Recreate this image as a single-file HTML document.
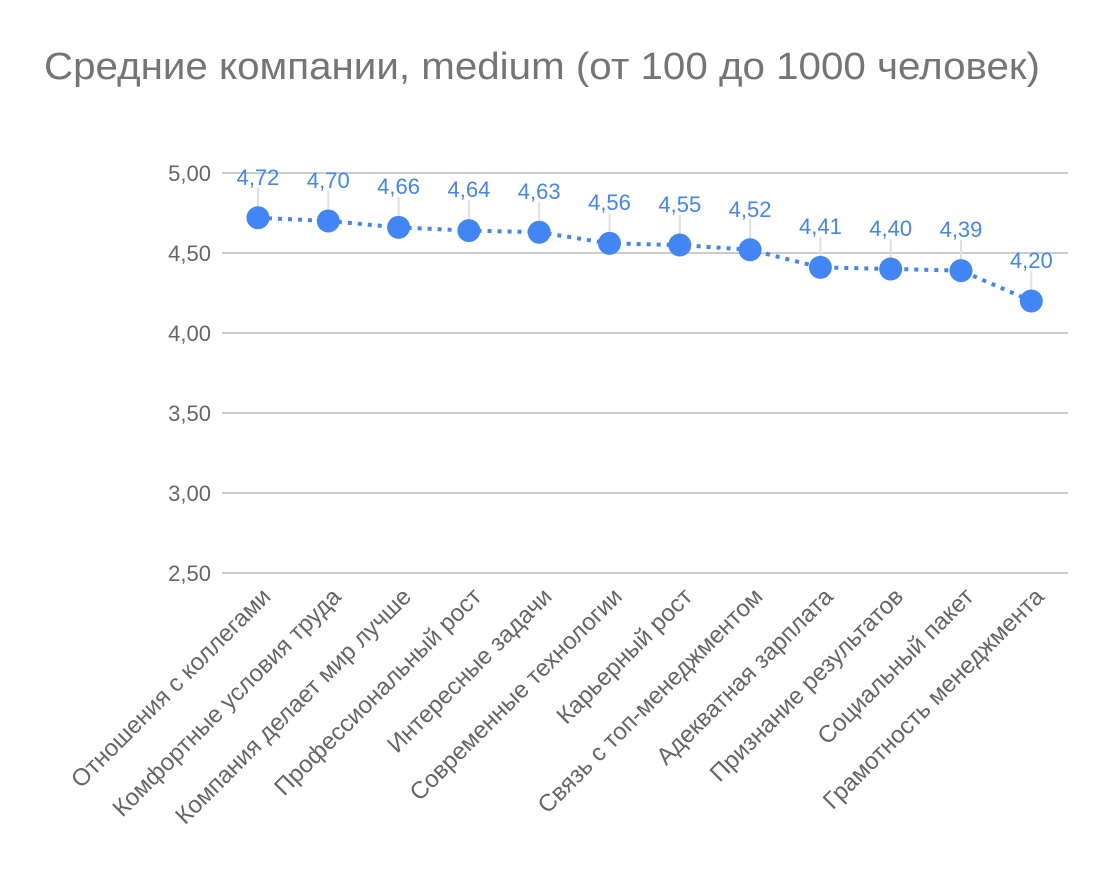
<!DOCTYPE html>
<html><head><meta charset="utf-8"><style>body{margin:0;background:#fff}</style></head><body>
<svg width="1104" height="876" xmlns="http://www.w3.org/2000/svg" font-family="'Liberation Sans','Noto Sans CJK SC',sans-serif">
<rect width="1104" height="876" fill="#fff"/>
<text x="44" y="79" font-size="38" fill="#757575" textLength="996" lengthAdjust="spacingAndGlyphs">Средние компании, medium (от 100 до 1000 человек)</text>
<g stroke="#cccccc" stroke-width="2">
<line x1="222" y1="173" x2="1068" y2="173"/><line x1="222" y1="253" x2="1068" y2="253"/>
<line x1="222" y1="333" x2="1068" y2="333"/><line x1="222" y1="413" x2="1068" y2="413"/>
<line x1="222" y1="493" x2="1068" y2="493"/><line x1="222" y1="573" x2="1068" y2="573"/>
</g>
<g font-size="22" fill="#666" text-anchor="end">
<text x="211" y="181">5,00</text><text x="211" y="261">4,50</text><text x="211" y="341">4,00</text>
<text x="211" y="421">3,50</text><text x="211" y="501">3,00</text><text x="211" y="581">2,50</text>
</g>
<g stroke="#e0e0e0" stroke-width="2">
<line x1="258" y1="188" x2="258" y2="208"/><line x1="328.3" y1="191" x2="328.3" y2="211"/>
<line x1="398.6" y1="197" x2="398.6" y2="217"/><line x1="468.9" y1="200" x2="468.9" y2="220"/>
<line x1="539.2" y1="202" x2="539.2" y2="222"/><line x1="609.5" y1="213" x2="609.5" y2="233"/>
<line x1="679.8" y1="215" x2="679.8" y2="235"/><line x1="750.1" y1="220" x2="750.1" y2="240"/>
<line x1="820.4" y1="237" x2="820.4" y2="257"/><line x1="890.7" y1="239" x2="890.7" y2="259"/>
<line x1="961" y1="240" x2="961" y2="260"/><line x1="1031.3" y1="271" x2="1031.3" y2="291"/>
</g>
<g font-size="22" fill="#4285f4" text-anchor="middle">
<text x="258" y="185">4,72</text><text x="328.3" y="188">4,70</text><text x="398.6" y="194">4,66</text>
<text x="468.9" y="197">4,64</text><text x="539.2" y="199">4,63</text><text x="609.5" y="210">4,56</text>
<text x="679.8" y="212">4,55</text><text x="750.1" y="217">4,52</text><text x="820.4" y="234">4,41</text>
<text x="890.7" y="236">4,40</text><text x="961" y="237">4,39</text><text x="1031.3" y="268">4,20</text>
</g>
<polyline points="258,217.8 328.3,221 398.6,227.4 468.9,230.6 539.2,232.2 609.5,243.4 679.8,245 750.1,249.8 820.4,267.4 890.7,269 961,270.6 1031.3,301" fill="none" stroke="#4285f4" stroke-width="4" stroke-dasharray="4 6"/>
<g fill="#4285f4">
<circle cx="258" cy="217.8" r="11.5"/><circle cx="328.3" cy="221" r="11.5"/><circle cx="398.6" cy="227.4" r="11.5"/>
<circle cx="468.9" cy="230.6" r="11.5"/><circle cx="539.2" cy="232.2" r="11.5"/><circle cx="609.5" cy="243.4" r="11.5"/>
<circle cx="679.8" cy="245" r="11.5"/><circle cx="750.1" cy="249.8" r="11.5"/><circle cx="820.4" cy="267.4" r="11.5"/>
<circle cx="890.7" cy="269" r="11.5"/><circle cx="961" cy="270.6" r="11.5"/><circle cx="1031.3" cy="301" r="11.5"/>
</g>
<g font-size="24" fill="#666" text-anchor="end">
<text transform="translate(272,598) rotate(-45)">Отношения с коллегами</text>
<text transform="translate(342.3,598) rotate(-45)">Комфортные условия труда</text>
<text transform="translate(412.6,598) rotate(-45)">Компания делает мир лучше</text>
<text transform="translate(482.9,598) rotate(-45)">Профессиональный рост</text>
<text transform="translate(553.2,598) rotate(-45)">Интересные задачи</text>
<text transform="translate(623.5,598) rotate(-45)">Современные технологии</text>
<text transform="translate(693.8,598) rotate(-45)">Карьерный рост</text>
<text transform="translate(764.1,598) rotate(-45)">Связь с топ-менеджментом</text>
<text transform="translate(834.4,598) rotate(-45)">Адекватная зарплата</text>
<text transform="translate(904.7,598) rotate(-45)">Признание результатов</text>
<text transform="translate(975,598) rotate(-45)">Социальный пакет</text>
<text transform="translate(1045.3,598) rotate(-45)">Грамотность менеджмента</text>
</g>
</svg>
</body></html>
